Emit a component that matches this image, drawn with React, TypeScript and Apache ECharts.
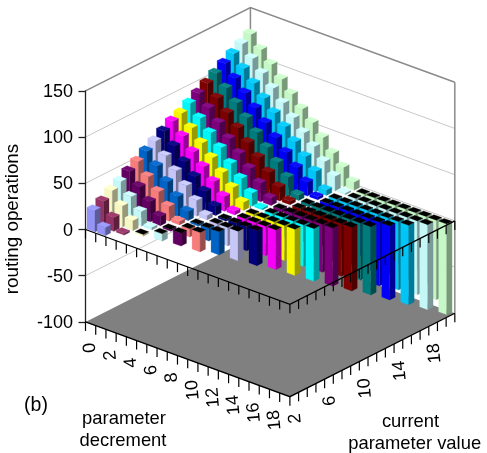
import React, { useEffect, useRef } from "react";
import * as echarts from "echarts";

const decrementLabels = ["0", "2", "4", "6", "8", "10", "12", "14", "16", "18"];
const valueLabels = ["2", "6", "10", "14", "18"];
const yTicks = [-100, -50, 0, 50, 100, 150];

const colors = ["#9999ff","#993366","#ffffcc","#ccffff","#660066","#ff8080","#0066cc","#ccccff","#000080","#ff00ff","#ffff00","#00ffff","#800080","#800000","#008080","#0000ff","#00ccff","#ccffff","#ccffcc"];

const v2 = [23.5, 9];
const v3 = [28.5, 15, 2];
const v4 = [35.5, 23, 11, -2];
const v5 = [40.5, 28, 16, 3, -8];
const v6 = [46.5, 34, 22, 10, -2, -14];
const v7 = [52.5, 40, 28, 16, 4, -9, -21];
const v8 = [59, 47, 34, 22, 10, -2, -14, -25];
const v9 = [65, 53, 41, 29, 17, 5, -8, -20, -32];
const v10 = [71, 59, 46, 34, 22, 10, -2, -14, -26, -38];
const v11 = [77, 65, 52, 40, 28, 16, 4, -8, -20, -32, -43];
const v12 = [81, 69, 57, 45, 33, 21, 9, -3, -15, -26, -38, -50];
const v13 = [87, 75, 63, 51, 38, 26, 14, 2, -10, -22, -33, -45, -57];
const v14 = [93, 81, 69, 56, 44, 32, 20, 8, -4, -16, -28, -40, -52, -63];
const v15 = [99, 87, 75, 63, 51, 39, 27, 15, 4, -9, -21, -33, -45, -57, -69];
const v16 = [105, 93, 81, 69, 57, 45, 33, 21, 6, -3, -15, -26, -38, -50, -62, -74];
const v17 = [111, 99, 87, 75, 63, 51, 39, 27, 15, 3, -9, -21, -33, -45, -57, -69, -80];
const v18 = [117, 105, 93, 81, 69, 58, 46, 34, 22, 6, -6, -14, -26, -38, -50, -62, -74, -86];
const v19 = [123, 111, 99, 87, 75, 63, 51, 40, 28, 16, 2, -8, -20, -32, -44, -56, -68, -80, -92];
const v20 = [128.5, 116, 104, 92, 80, 68, 57, 45, 32, 21, 9, -3, -15, -27, -39, -50, -62, -74, -86, -98];
const rows = [v2,v3,v4,v5,v6,v7,v8,v9,v10,v11,v12,v13,v14,v15,v16,v17,v18,v19,v20];

// ground projection: cell step along each ground axis, in pixels
const O = { x: 85.5, y: 229.5 };
const A = { x: 10.22, y: 3.74 };
const B = { x: 8.68, y: -4.39 };
const WA = 0.78;
const WB = 0.62;
const ground = (u: number, i: number) => ({ x: O.x + u * A.x + i * B.x, y: u * A.y + i * B.y });

const shade = (hex: string, k: number) => {
  const n = parseInt(hex.slice(1), 16);
  const c = [n >> 16, (n >> 8) & 255, n & 255].map((v) => (k <= 1 ? v * k : v + (255 - v) * (k - 1)));
  return `rgb(${c.map((v) => Math.round(v)).join(",")})`;
};

const barRender = (i: number) => (_: any, api: any) => {
  const u = api.value(0);
  const val = api.value(1);
  const base = api.coord([0, 0])[1];
  const top = api.coord([0, val])[1];
  const da = (1 - WA) / 2;
  const db = (1 - WB) / 2;
  const shift = -1.3 * (1 - u / 19);
  const P = (a: number, b: number, y: number) => {
    const g = ground(u + a, i + b);
    return [g.x + shift, g.y + y];
  };
  const hi = Math.min(base, top);
  const lo = Math.max(base, top);
  const an = da, af = 1 - da, bn = db, bf = 1 - db;
  const leftFace = [P(an, bn, hi), P(af, bn, hi), P(af, bn, lo), P(an, bn, lo)];
  const rightFace = [P(af, bn, hi), P(af, bf, hi), P(af, bf, lo), P(af, bn, lo)];
  const topFace = [P(an, bn, hi), P(af, bn, hi), P(af, bf, hi), P(an, bf, hi)];
  const c = colors[i];
  return {
    type: "group",
    children: [
      { type: "polygon", shape: { points: leftFace }, style: { fill: shade(c, 0.97), stroke: shade(c, 0.97), lineWidth: 0.3 } },
      { type: "polygon", shape: { points: rightFace }, style: { fill: shade(c, 0.6), stroke: shade(c, 0.6), lineWidth: 0.3 } },
      { type: "polygon", shape: { points: topFace }, style: { fill: val < 0 ? "#000" : shade(c, 1.05), stroke: val < 0 ? "#000" : shade(c, 1.05), lineWidth: 0.3 } },
    ],
  };
};

const cornerL = 0, cornerF = 20, cornerR = 19;
const sy = 0.924;

const buildGraphics = () => {
  const out: any[] = [];
  const zy = (z: number) => O.y - z * sy;
  const L = ground(cornerL, 0), F = ground(cornerF, 0), R = ground(cornerF, cornerR), K = ground(0, cornerR);
  const pt = (g: { x: number; y: number }, z: number) => [g.x, g.y + zy(z)];
  const thin = { stroke: "#c8c8c8", lineWidth: 1 };
  const dark = { stroke: "#8a8a8a", lineWidth: 1.5 };
  out.push({ type: "polygon", z: -10, shape: { points: [pt(L, -100), pt(F, -100), pt(R, -100), pt(K, -100)] }, style: { fill: "#808080" } });
  yTicks.slice(1).forEach((t) => {
    const st = t === 150 ? dark : thin;
    out.push({ type: "polyline", z: -9, shape: { points: [pt(L, t), pt(K, t), pt(R, t)] }, style: { ...st, fill: "none" } });
  });
  out.push({ type: "line", z: -9, shape: { x1: K.x, y1: pt(K, -100)[1], x2: K.x, y2: pt(K, 150)[1] }, style: dark });
  out.push({ type: "line", z: -9, shape: { x1: R.x, y1: pt(R, -100)[1], x2: R.x, y2: pt(R, 150)[1] }, style: dark });
  const axisZ = [0, -100];
  axisZ.forEach((z) => {
    const zIdx = z === 0 ? 30 : 5;
    out.push({ type: "polyline", z: zIdx, shape: { points: [pt(L, z), pt(F, z), pt(R, z)] }, style: { stroke: "#000", lineWidth: 1.3, fill: "none" } });
    for (let u = 0; u <= 20; u++) {
      const p = pt(ground(u, 0), z);
      out.push({ type: "line", z: zIdx, shape: { x1: p[0], y1: p[1], x2: p[0], y2: p[1] + 9 }, style: { stroke: "#000", lineWidth: 1.2 } });
    }
    for (let i = 1; i <= 19; i++) {
      const p = pt(ground(20, i), z);
      out.push({ type: "line", z: zIdx, shape: { x1: p[0], y1: p[1], x2: p[0], y2: p[1] + 9 }, style: { stroke: "#000", lineWidth: 1.2 } });
    }
  });
  const font = '18px "Liberation Sans", Arial, sans-serif';
  decrementLabels.forEach((s, k) => {
    const p = pt(ground(k * 2 + 0.5, 0), -100);
    out.push({ type: "text", z: 6, x: p[0] - 2, y: p[1] + 19, rotation: Math.PI * 0.53, style: { text: s, font, fill: "#000", align: "right", verticalAlign: "middle" } });
  });
  valueLabels.forEach((s, k) => {
    const p = pt(ground(20, k * 4 + 0.5), -100);
    out.push({ type: "text", z: 6, x: p[0] - 0.5, y: p[1] + 19, rotation: Math.PI * 0.53, style: { text: s, font, fill: "#000", align: "right", verticalAlign: "middle" } });
  });
  const label = (text: string, x: number, y: number, size = 18.4, rotation = 0) =>
    out.push({ type: "text", z: 6, x, y, rotation, style: { text, font: `${size}px "Liberation Sans", Arial, sans-serif`, fill: "#000", align: "center", verticalAlign: "middle" } });
  label("(b)", 36, 404, 19.5);
  label("parameter", 124, 417);
  label("decrement", 123, 439);
  label("current", 410.5, 420);
  label("parameter value", 414.7, 442);
  label("routing operations", 11.5, 219, 18.8, Math.PI / 2);
  return out;
};

export default function App() {
  const ref = useRef<HTMLDivElement>(null);
  useEffect(() => {
    if (!ref.current) return;
    const chart = echarts.init(ref.current, undefined, { renderer: "svg" });
    const top = O.y - 150 * sy;
    const series: any[] = [];
    for (let i = rows.length - 1; i >= 0; i--) {
      series.push({
        type: "custom",
        name: String(i + 2),
        silent: true,
        z: 10,
        clip: false,
        renderItem: barRender(i),
        encode: { x: 0, y: 1 },
        data: rows[i].map((val, u) => [u, val]),
      });
    }
    chart.setOption({
      animation: false,
      grid: { left: O.x, top, width: 370, height: 250 * sy, containLabel: false },
      xAxis: { type: "value", min: 0, max: 20, show: false },
      yAxis: {
        type: "value",
        min: -100,
        max: 150,
        interval: 50,
        axisLine: { show: true, lineStyle: { color: "#222", width: 1.3 } },
        axisTick: { show: true, length: 7, lineStyle: { color: "#222", width: 1.3 } },
        axisLabel: { fontFamily: "Liberation Sans", fontSize: 18, color: "#000", margin: 12.5 },
        splitLine: { show: false },
      },
      graphic: buildGraphics(),
      series,
    });
    return () => chart.dispose();
  }, []);
  return <div ref={ref} style={{ position: "fixed", left: 0, top: 0, width: 487, height: 453 }} />;
}
